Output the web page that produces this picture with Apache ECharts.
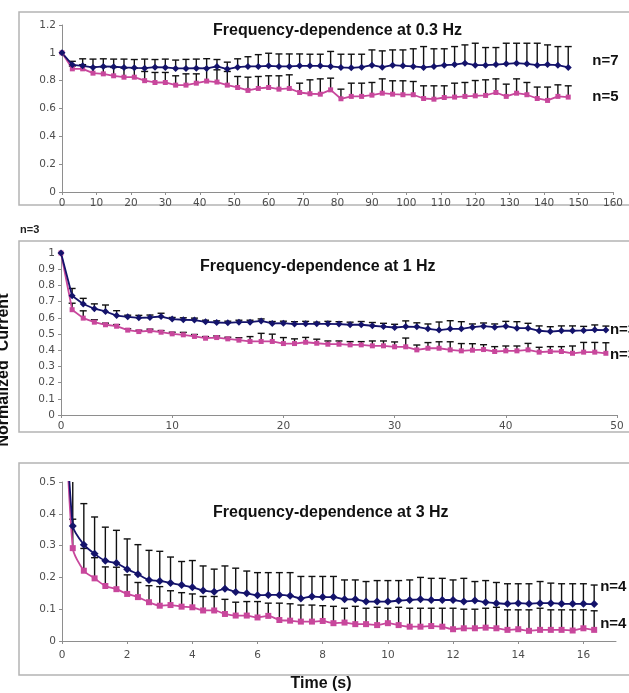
<!DOCTYPE html>
<html>
<head>
<meta charset="utf-8">
<script src="https://cdn.jsdelivr.net/npm/echarts@6/dist/echarts.min.js"></script>
<style>
html, body { margin: 0; padding: 0; background: #fff; }
#chart { width: 629px; height: 693px; }
</style>
</head>
<body>
<div id="chart"></div>
<script>
// ---- 0.3 Hz stimulation (time in s) ----
const time03 = [0,3,6,9,12,15,18,21,24,27,30,33,36,39,42,45,48,51,54,57,60,63,66,69,72,75,78,81,84,87,90,93,96,99,102,105,108,111,114,117,120,123,126,129,132,135,138,141,144,147];
const blue03 = [1.0,0.914,0.907,0.895,0.902,0.900,0.895,0.892,0.890,0.897,0.895,0.888,0.888,0.890,0.888,0.902,0.883,0.897,0.902,0.902,0.907,0.902,0.902,0.907,0.907,0.907,0.902,0.895,0.892,0.897,0.911,0.897,0.911,0.907,0.902,0.895,0.902,0.911,0.916,0.926,0.911,0.911,0.916,0.921,0.926,0.921,0.911,0.916,0.911,0.895];
const blueErr03 = [0,0.025,0.05,0.06,0.055,0.055,0.06,0.06,0.065,0.055,0.06,0.06,0.065,0.065,0.07,0.05,0.05,0.06,0.07,0.085,0.09,0.09,0.09,0.085,0.083,0.083,0.108,0.095,0.098,0.093,0.11,0.117,0.11,0.114,0.127,0.15,0.127,0.118,0.129,0.131,0.158,0.127,0.122,0.148,0.143,0.148,0.158,0.141,0.134,0.15];
const pink03 = [1.0,0.885,0.885,0.854,0.849,0.835,0.825,0.825,0.800,0.787,0.787,0.768,0.768,0.782,0.797,0.790,0.768,0.751,0.730,0.744,0.751,0.739,0.744,0.715,0.706,0.703,0.734,0.670,0.687,0.687,0.696,0.710,0.703,0.699,0.699,0.672,0.667,0.679,0.682,0.687,0.691,0.694,0.715,0.687,0.710,0.699,0.672,0.658,0.687,0.682];
const pinkErr03 = [0,0.02,0.03,0.045,0.05,0.06,0.065,0.065,0.066,0.072,0.072,0.067,0.081,0.067,0.093,0.088,0.098,0.079,0.095,0.086,0.084,0.096,0.098,0.067,0.1,0.11,0.084,0.069,0.095,0.095,0.091,0.103,0.096,0.1,0.095,0.091,0.096,0.084,0.1,0.1,0.11,0.112,0.098,0.088,0.103,0.088,0.082,0.096,0.083,0.081];

// ---- 1 Hz stimulation ----
const time1 = [0,1,2,3,4,5,6,7,8,9,10,11,12,13,14,15,16,17,18,19,20,21,22,23,24,25,26,27,28,29,30,31,32,33,34,35,36,37,38,39,40,41,42,43,44,45,46,47,48,49];
const blue1 = [1.0,0.736,0.685,0.656,0.639,0.614,0.606,0.600,0.602,0.608,0.592,0.588,0.586,0.575,0.571,0.569,0.573,0.573,0.581,0.565,0.567,0.561,0.563,0.563,0.563,0.561,0.557,0.557,0.551,0.546,0.540,0.546,0.544,0.532,0.524,0.532,0.532,0.542,0.548,0.542,0.548,0.536,0.536,0.520,0.515,0.520,0.520,0.522,0.526,0.524];
const blueErr1 = [0,0.045,0.035,0.03,0.04,0.03,0.01,0.015,0.015,0.02,0.01,0.012,0.012,0.01,0.01,0.01,0.012,0.012,0.012,0.012,0.012,0.015,0.015,0.01,0.015,0.015,0.016,0.02,0.02,0.02,0.02,0.035,0.025,0.03,0.05,0.05,0.044,0.02,0.02,0.02,0.03,0.04,0.03,0.03,0.03,0.03,0.03,0.025,0.03,0.025];
const pink1 = [1.0,0.650,0.598,0.573,0.557,0.548,0.524,0.515,0.520,0.511,0.501,0.495,0.485,0.474,0.478,0.470,0.462,0.454,0.454,0.454,0.441,0.441,0.449,0.443,0.437,0.437,0.433,0.433,0.427,0.427,0.421,0.421,0.402,0.412,0.412,0.402,0.396,0.400,0.404,0.392,0.396,0.396,0.402,0.388,0.392,0.392,0.381,0.388,0.388,0.381];
const pinkErr1 = [0,0.04,0.045,0.015,0.01,0.01,0.008,0.008,0.01,0.01,0.01,0.015,0.012,0.01,0.01,0.01,0.015,0.03,0.05,0.045,0.037,0.029,0.03,0.025,0.02,0.02,0.02,0.02,0.03,0.03,0.03,0.054,0.03,0.035,0.04,0.05,0.045,0.04,0.03,0.03,0.03,0.03,0.04,0.03,0.03,0.03,0.045,0.06,0.06,0.065];

// ---- 3 Hz stimulation ----
const time3 = [0,0.33,0.67,1,1.33,1.67,2,2.33,2.67,3,3.33,3.67,4,4.33,4.67,5,5.33,5.67,6,6.33,6.67,7,7.33,7.67,8,8.33,8.67,9,9.33,9.67,10,10.33,10.67,11,11.33,11.67,12,12.33,12.67,13,13.33,13.67,14,14.33,14.67,15,15.33,15.67,16,16.33];
const blue3 = [1.0,0.362,0.303,0.274,0.252,0.245,0.226,0.210,0.192,0.189,0.182,0.176,0.169,0.159,0.155,0.164,0.154,0.150,0.144,0.145,0.145,0.142,0.134,0.140,0.138,0.138,0.131,0.131,0.124,0.124,0.124,0.127,0.129,0.131,0.129,0.129,0.129,0.124,0.127,0.122,0.119,0.117,0.119,0.117,0.119,0.119,0.117,0.117,0.117,0.116];
const blueErr3 = [0,0.2,0.129,0.116,0.106,0.103,0.095,0.093,0.093,0.093,0.082,0.074,0.084,0.077,0.071,0.072,0.075,0.07,0.071,0.07,0.07,0.073,0.069,0.063,0.065,0.065,0.061,0.061,0.063,0.066,0.066,0.063,0.063,0.069,0.068,0.068,0.063,0.073,0.06,0.068,0.065,0.063,0.061,0.063,0.068,0.063,0.063,0.063,0.063,0.06];
const pink3 = [1.0,0.292,0.221,0.197,0.173,0.163,0.148,0.138,0.122,0.111,0.113,0.108,0.106,0.096,0.096,0.085,0.080,0.080,0.074,0.079,0.066,0.064,0.061,0.061,0.063,0.056,0.058,0.053,0.053,0.050,0.056,0.050,0.045,0.045,0.047,0.045,0.037,0.040,0.040,0.042,0.040,0.035,0.037,0.032,0.035,0.035,0.035,0.033,0.040,0.035];
const pinkErr3 = [0,0.091,0.07,0.065,0.06,0.069,0.06,0.046,0.052,0.06,0.045,0.044,0.042,0.044,0.044,0.046,0.042,0.044,0.05,0.04,0.053,0.053,0.052,0.052,0.048,0.053,0.045,0.056,0.05,0.056,0.047,0.056,0.058,0.058,0.056,0.058,0.066,0.06,0.06,0.061,0.066,0.063,0.061,0.066,0.068,0.063,0.063,0.065,0.058,0.06];

// axis tick values
const xTicks3 = [0,2,4,6,8,10,12,14,16];

const titles = ['Frequency-dependence at 0.3 Hz', 'Frequency-dependence at 1 Hz', 'Frequency-dependence at 3 Hz'];
const nLabels = [['n=7', 'n=5'], ['n=3', 'n=3'], ['n=4', 'n=4']];

const BLUE = '#14136b';
const PINK = '#c8479c';
const AXIS = '#8e8e8e';
const FONT = 'Liberation Sans, Arial, sans-serif';

const chart = echarts.init(document.getElementById('chart'), null, { renderer: 'canvas' });

function pairs(t, v) { return t.map((x, i) => [x, v[i]]); }
function errData(t, v, e) {
  const out = [];
  t.forEach((x, i) => { if (e[i] > 0) out.push([x, v[i], v[i] + e[i]]); });
  return out;
}
function renderErr(params, api) {
  const x = api.value(0);
  const p0 = api.coord([x, api.value(1)]);
  const p1 = api.coord([x, api.value(2)]);
  const w = 3.5;
  const st = { stroke: '#111', lineWidth: 1.4 };
  return {
    type: 'group',
    children: [
      { type: 'line', shape: { x1: p0[0], y1: p0[1], x2: p1[0], y2: p1[1] }, style: st },
      { type: 'line', shape: { x1: p1[0] - w, y1: p1[1], x2: p1[0] + w, y2: p1[1] }, style: st }
    ]
  };
}

function xAxis(idx, max, interval, margin, extra) {
  return Object.assign({
    type: 'value', gridIndex: idx, min: 0, max: max, interval: interval,
    axisLine: { show: true, onZero: false, lineStyle: { color: AXIS, width: 1 } },
    axisTick: { show: true, length: 3, lineStyle: { color: AXIS } },
    axisLabel: { color: '#4d4d4d', fontSize: 10.5, fontFamily: 'DejaVu Sans', margin: margin },
    splitLine: { show: false }
  }, extra || {});
}
function yAxis(idx, max, interval) {
  return {
    type: 'value', gridIndex: idx, min: 0, max: max, interval: interval,
    axisLine: { show: true, lineStyle: { color: AXIS, width: 1 } },
    axisTick: { show: true, length: 3, lineStyle: { color: AXIS } },
    axisLabel: { color: '#4d4d4d', fontSize: 10.5, fontFamily: 'DejaVu Sans', margin: 6 },
    splitLine: { show: false }
  };
}

function lineSeries(idx, data, color, symbol, size, label, lblOffset, lblDist, smooth) {
  return {
    type: 'line', xAxisIndex: idx, yAxisIndex: idx, data: data,
    symbol: symbol, symbolSize: size, smooth: smooth || false,
    clip: true, z: 3,
    lineStyle: { color: color, width: 1.8 },
    itemStyle: { color: color },
    endLabel: {
      show: true, formatter: label, color: '#111', fontSize: 15, fontWeight: 'bold',
      fontFamily: FONT, distance: lblDist, offset: lblOffset
    },
    animation: false
  };
}
function errSeries(idx, data) {
  return {
    type: 'custom', xAxisIndex: idx, yAxisIndex: idx, data: data,
    renderItem: renderErr, clip: true, z: 2, animation: false, silent: true
  };
}

const option = {
  backgroundColor: '#fff',
  animation: false,
  grid: [
    { left: 62, top: 25, width: 551, height: 167 },
    { left: 61, top: 253, width: 556, height: 162 },
    { left: 62, top: 482, width: 554, height: 159 }
  ],
  xAxis: [
    xAxis(0, 160, 10, 6),
    xAxis(1, 50, 10, 6),
    xAxis(2, 17, 2, 9, {
      axisLabel: { color: '#4d4d4d', fontSize: 10.5, fontFamily: 'DejaVu Sans', margin: 9, customValues: xTicks3 },
      axisTick: { show: true, length: 3, lineStyle: { color: AXIS }, customValues: xTicks3 }
    })
  ],
  yAxis: [
    yAxis(0, 1.2, 0.2),
    yAxis(1, 1, 0.1),
    yAxis(2, 0.5, 0.1)
  ],
  title: [
    { text: titles[0], left: 213, top: 23, padding: 0, textStyle: { fontSize: 16, fontWeight: 'bold', fontFamily: FONT, color: '#111', lineHeight: 16 } },
    { text: titles[1], left: 200, top: 259, padding: 0, textStyle: { fontSize: 16, fontWeight: 'bold', fontFamily: FONT, color: '#111', lineHeight: 16 } },
    { text: titles[2], left: 213, top: 505, padding: 0, textStyle: { fontSize: 16, fontWeight: 'bold', fontFamily: FONT, color: '#111', lineHeight: 16 } }
  ],
  graphic: [
    { type: 'rect', shape: { x: 19, y: 12, width: 630, height: 193 }, style: { fill: 'none', stroke: '#b4b4b4', lineWidth: 1.5 }, z: -1 },
    { type: 'rect', shape: { x: 19, y: 241, width: 630, height: 191 }, style: { fill: 'none', stroke: '#b4b4b4', lineWidth: 1.5 }, z: -1 },
    { type: 'rect', shape: { x: 19, y: 463, width: 630, height: 212 }, style: { fill: 'none', stroke: '#b4b4b4', lineWidth: 1.5 }, z: -1 },
    { type: 'text', x: 20, y: 230, style: { text: 'n=3', fontSize: 11, fontWeight: 'bold', fontFamily: FONT, fill: '#222', textVerticalAlign: 'middle' } },
    { type: 'text', x: 4, y: 370, rotation: Math.PI / 2, style: { text: 'Normalized  Current', fontSize: 16, fontWeight: 'bold', fontFamily: FONT, fill: '#111', textAlign: 'center', textVerticalAlign: 'middle' } },
    { type: 'text', x: 321, y: 684, style: { text: 'Time (s)', fontSize: 16, fontWeight: 'bold', fontFamily: FONT, fill: '#111', textAlign: 'center', textVerticalAlign: 'middle' } }
  ],
  series: [
    errSeries(0, errData(time03, pink03, pinkErr03)),
    errSeries(0, errData(time03, blue03, blueErr03)),
    lineSeries(0, pairs(time03, pink03), PINK, 'rect', 5, nLabels[0][1], [0, 0], 24),
    lineSeries(0, pairs(time03, blue03), BLUE, 'diamond', 7, nLabels[0][0], [0, -7], 24),

    errSeries(1, errData(time1, pink1, pinkErr1)),
    errSeries(1, errData(time1, blue1, blueErr1)),
    lineSeries(1, pairs(time1, pink1), PINK, 'rect', 5, nLabels[1][1], [0, 2], 4),
    lineSeries(1, pairs(time1, blue1), BLUE, 'diamond', 7, nLabels[1][0], [0, 0], 4),

    errSeries(2, errData(time3, pink3, pinkErr3)),
    errSeries(2, errData(time3, blue3, blueErr3)),
    lineSeries(2, pairs(time3, pink3), PINK, 'rect', 6, nLabels[2][1], [0, -6], 6, 0.25),
    lineSeries(2, pairs(time3, blue3), BLUE, 'diamond', 8, nLabels[2][0], [0, -17], 6, 0.25)
  ]
};
chart.setOption(option);
</script>
</body>
</html>
